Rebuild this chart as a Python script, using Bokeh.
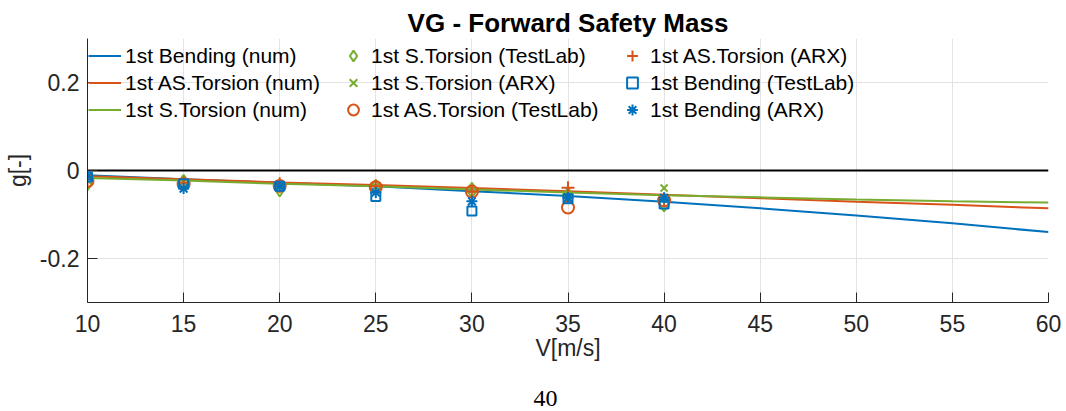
from bokeh.plotting import figure
from bokeh.models import Legend, LegendItem, FixedTicker, Range1d, Title
from bokeh.embed import file_html
from bokeh.resources import INLINE

# ---------------- data ----------------
V_num = [10, 15, 20, 25, 30, 35, 40, 45, 50, 55, 60]
bend_num = [-0.011, -0.020, -0.028, -0.036, -0.047, -0.058, -0.071, -0.086, -0.102, -0.120, -0.140]
ast_num = [-0.013, -0.020, -0.027, -0.033, -0.040, -0.047, -0.055, -0.063, -0.071, -0.078, -0.086]
st_num = [-0.017, -0.023, -0.030, -0.036, -0.043, -0.050, -0.056, -0.061, -0.066, -0.070, -0.073]
zero_V = [10, 60]
zero_g = [0, 0]

V_exp = [10, 15, 20, 25, 30, 35, 40]
st_testlab = [-0.028, -0.027, -0.042, -0.038, -0.045, -0.056, -0.076]
st_arx = [-0.022, -0.026, -0.033, -0.037, -0.045, -0.055, -0.040]
ast_testlab = [-0.024, -0.031, -0.035, -0.038, -0.048, -0.084, -0.068]
ast_arx = [-0.020, -0.028, -0.030, -0.036, -0.048, -0.039, -0.066]
bend_testlab = [-0.015, -0.030, -0.036, -0.059, -0.092, -0.064, -0.076]
bend_arx = [-0.014, -0.041, -0.036, -0.050, -0.070, -0.062, -0.062]

x_ticks = [10, 15, 20, 25, 30, 35, 40, 45, 50, 55, 60]
y_ticks = [-0.2, 0, 0.2]
y_tick_labels = {-0.2: "-0.2", 0: "0", 0.2: "0.2"}

title_text = "VG - Forward Safety Mass"
x_label = "V[m/s]"
y_label = "g[-]"
page_number = "40"

BLUE = "#0072BD"
ORANGE = "#D95319"
GREEN = "#77AC30"
AXC = "#262626"
FONT = "Liberation Sans"

p = figure(width=1066, height=411, output_backend="svg", toolbar_location=None,
           x_range=Range1d(10, 60), y_range=Range1d(-0.3, 0.3),
           min_border_left=87, min_border_right=18, min_border_top=38,
           min_border_bottom=109)
p.outline_line_color = None
p.background_fill_color = "white"
p.border_fill_color = "white"

p.title = Title(text=title_text, align="center", text_font=FONT,
                text_font_size="26px", text_font_style="bold",
                text_color="black", standoff=1)

for ax in (p.xaxis[0], p.yaxis[0]):
    ax.axis_line_color = AXC
    ax.axis_line_width = 1
    ax.major_tick_line_color = AXC
    ax.major_tick_in = 10
    ax.major_tick_out = 0
    ax.minor_tick_line_color = None
    ax.major_label_text_font = FONT
    ax.major_label_text_font_size = "23px"
    ax.major_label_text_color = AXC
    ax.axis_label_text_font = FONT
    ax.axis_label_text_font_size = "23px"
    ax.axis_label_text_font_style = "normal"
    ax.axis_label_text_color = AXC

p.xaxis.ticker = FixedTicker(ticks=x_ticks)
p.yaxis.ticker = FixedTicker(ticks=y_ticks)
p.yaxis.major_label_overrides = y_tick_labels
p.xaxis.axis_label = x_label
p.yaxis.axis_label = y_label
p.xaxis.major_label_standoff = 12
p.xaxis.axis_label_standoff = 0
p.yaxis.major_label_standoff = 8
p.yaxis.axis_label_standoff = 6

p.xgrid.grid_line_color = "#e3e3e3"
p.ygrid.grid_line_color = "#e3e3e3"
p.xgrid.grid_line_width = 1
p.ygrid.grid_line_width = 1

# lines
r_bn = p.line(V_num, bend_num, line_color=BLUE, line_width=2)
r_an = p.line(V_num, ast_num, line_color=ORANGE, line_width=2)
r_sn = p.line(V_num, st_num, line_color=GREEN, line_width=2)
p.line(zero_V, zero_g, line_color="black", line_width=2)

# markers
r_st = p.scatter(V_exp, st_testlab, marker="diamond", size=15, fill_color=None,
                 line_color=GREEN, line_width=2)
r_sa = p.scatter(V_exp, st_arx, marker="x", size=10, line_color=GREEN, line_width=2)
r_at = p.scatter(V_exp, ast_testlab, marker="circle", size=12, fill_color=None,
                 line_color=ORANGE, line_width=2)
r_aa = p.scatter(V_exp, ast_arx, marker="cross", size=13, line_color=ORANGE, line_width=2)
r_bt = p.scatter(V_exp, bend_testlab, marker="square", size=9, fill_color=None,
                 line_color=BLUE, line_width=2)
r_ba = p.scatter(V_exp, bend_arx, marker="asterisk", size=11, line_color=BLUE, line_width=2)

def mk_legend(items, vx, gw):
    leg = Legend(items=[LegendItem(label=l, renderers=[r]) for l, r in items],
                 location=(vx, 179), orientation="vertical",
                 background_fill_alpha=0, border_line_alpha=0,
                 padding=0, margin=0, spacing=0,
                 glyph_width=gw, glyph_height=27, label_height=27,
                 label_standoff=4, label_text_font=FONT,
                 label_text_font_size="21px", label_text_color="black",
                 label_text_baseline="middle")
    p.add_layout(leg)

mk_legend([("1st Bending (num)", r_bn), ("1st AS.Torsion (num)", r_an),
           ("1st S.Torsion (num)", r_sn)], 1, 33)
mk_legend([("1st S.Torsion (TestLab)", r_st), ("1st S.Torsion (ARX)", r_sa),
           ("1st AS.Torsion (TestLab)", r_at)], 252, 28)
mk_legend([("1st AS.Torsion (ARX)", r_aa), ("1st Bending (TestLab)", r_bt),
           ("1st Bending (ARX)", r_ba)], 531, 28)

# spacer below the x axis, then the page number
p.add_layout(Title(text=" ", text_font=FONT, text_font_size="20px", standoff=0),
             "below")
p.add_layout(Title(text=page_number, align="left", offset=446,
                   text_font="Liberation Serif", text_font_size="24px",
                   text_font_style="normal", text_color="black", standoff=2),
             "below")

open("out.html", "w").write(file_html(p, INLINE))
